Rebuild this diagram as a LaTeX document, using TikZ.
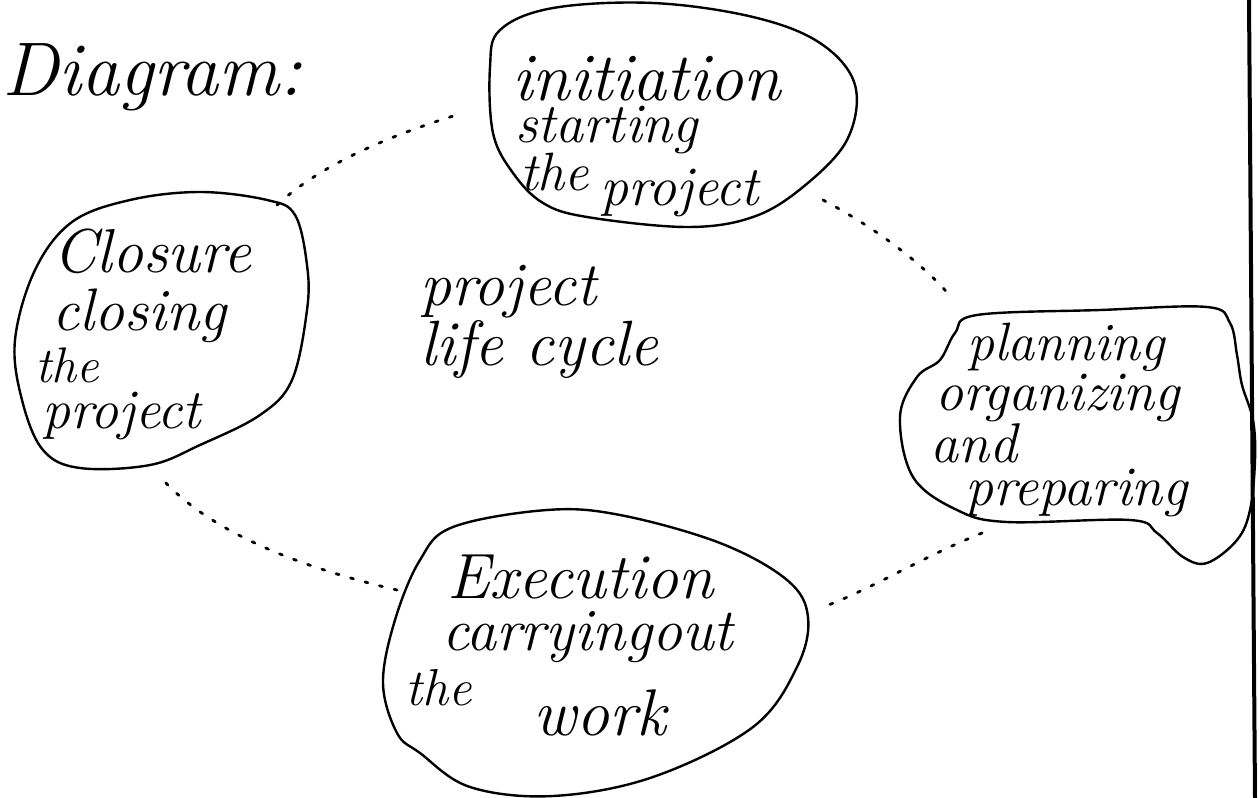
\documentclass[tikz,border=0pt]{standalone}
\usepackage{fontspec}
\tikzset{
  blob/.style={draw=black, line width=2.4pt, line join=round},
  hand/.style={inner sep=0pt, anchor=base west, font=\itshape\fontsize{#1}{#1}\selectfont},
  conn/.style={line width=2.8pt, line cap=round, dash pattern=on 3pt off 12pt},
  edge rule/.style={line width=4pt}
}
\begin{document}
\begin{tikzpicture}[x=1pt,y=-1pt]
\useasboundingbox (0,0) rectangle (1259,798);
% title
\node[hand=76] (title) at (2,95) {Diagram:};

% initiation blob
\draw[blob] plot[smooth cycle, tension=0.6] coordinates {(490,67) (500,30) (553,8) (653,3) (753,17) (820,43) (855,85) (847,140) (803,187) (753,217) (687,227) (587,217) (543,203) (513,173) (493,133)};
\node[hand=68] (ini1) at (512,100) {initiation};
\node[hand=56] (ini2) at (515,142) {starting};
\node[hand=54] (ini3) at (520,190) {the};
\node[hand=56] (ini4) at (600,205) {project};

% closure blob
\draw[blob] plot[smooth cycle, tension=0.6] coordinates {(72,222) (130,200) (200,192) (267,200) (295,215) (307,265) (307,310) (292,380) (260,415) (200,445) (150,465) (80,468) (43,450) (22,400) (15,340) (35,270)};
\node[hand=62] (clo1) at (53,272) {Closure};
\node[hand=60] (clo2) at (52,330) {closing};
\node[hand=50] (clo3) at (35,382) {the};
\node[hand=56] (clo4) at (42,428) {project};

% centre text
\node[hand=62] (plc1) at (420,305) {project};
\node[hand=64] (plc2) at (420,365) {life\hspace{0.35em}cycle};

% planning blob
\draw[blob] plot[smooth cycle, tension=0.6] coordinates {(977,315) (1100,310) (1207,307) (1230,323) (1237,355) (1242,385) (1253,420) (1255,460) (1250,510) (1237,540) (1207,563) (1183,557) (1157,533) (1130,520) (1007,522) (957,510) (913,477) (900,417) (917,377) (940,360) (955,333)};
\node[hand=54] (pla1) at (967,360) {planning};
\node[hand=56] (pla2) at (935,410) {organizing};
\node[hand=56] (pla3) at (930,462) {and};
\node[hand=56] (pla4) at (965,505) {preparing};

% execution blob
\draw[blob] plot[smooth cycle, tension=0.6] coordinates {(453,527) (547,510) (620,515) (720,543) (787,580) (808,617) (797,667) (753,727) (653,777) (553,796) (470,787) (420,753) (397,733) (383,683) (395,620) (420,560)};
\node[hand=64] (exe1) at (447,598) {Execution};
\node[hand=60] (exe2) at (442,650) {carryingout};
\node[hand=52] (exe3) at (405,705) {the};
\node[hand=66] (exe4) at (533,735) {work};

% connector ends
\coordinate (cloT) at (277,205);
\coordinate (iniL) at (463,113);
\coordinate (iniR) at (823,200);
\coordinate (plaT) at (952,298);
\coordinate (plaB) at (982,533);
\coordinate (exeR) at (823,607);
\coordinate (exeL) at (397,590);
\coordinate (cloB) at (165,482);

\draw[conn] (cloT) .. controls (320,165) and (390,135) .. (iniL);
\draw[conn] (iniR) .. controls (870,225) and (920,260) .. (plaT);
\draw[conn] (plaB) .. controls (920,558) and (870,590) .. (exeR);
\draw[conn] (exeL) .. controls (320,572) and (220,540) .. (cloB);

% page edge
\draw[edge rule] (1249,0) -- (1255,798);
\end{tikzpicture}
\end{document}
